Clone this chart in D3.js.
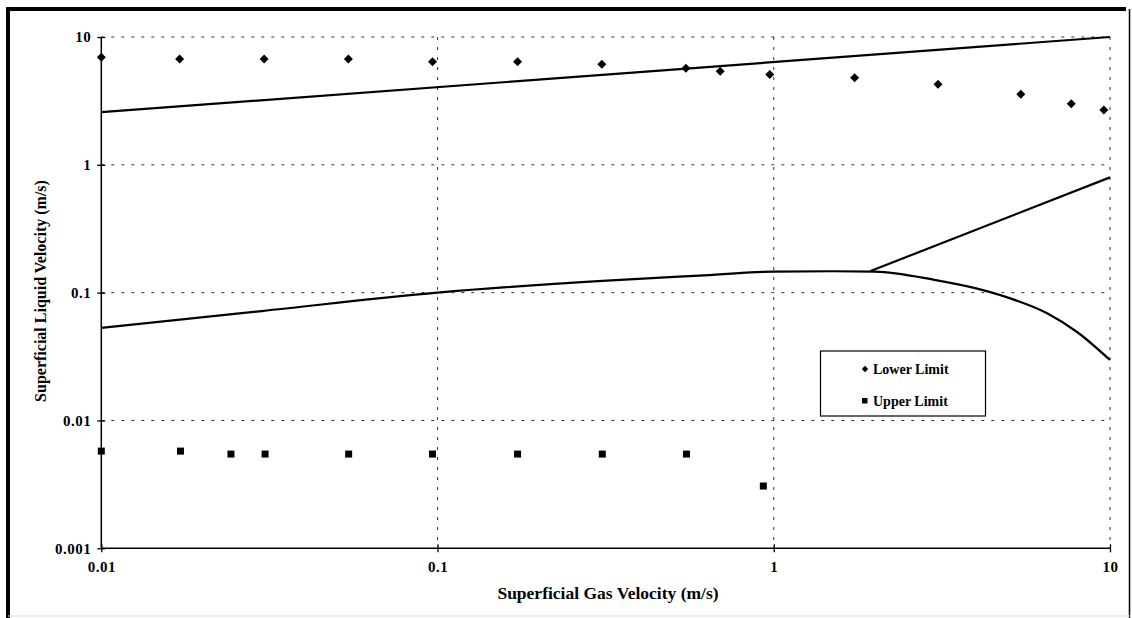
<!DOCTYPE html>
<html><head><meta charset="utf-8">
<script src="https://cdn.jsdelivr.net/npm/d3@7"></script>
<style>
body{margin:0;background:#fff}
svg{display:block}
text{font-family:"Liberation Serif","Times New Roman",serif;font-weight:bold;fill:#000}
</style>
</head><body><svg id="c" width="1132" height="618"></svg>
<script>
// ---- data ----
const lowerX = [0.01, 0.0171, 0.0305, 0.0543, 0.0966, 0.173, 0.308, 0.548, 0.693, 0.973, 1.74, 3.08, 5.43, 7.67, 9.59];
const lowerY = [6.95, 6.73, 6.73, 6.73, 6.41, 6.41, 6.11, 5.69, 5.39, 5.10, 4.80, 4.27, 3.56, 3.01, 2.69];
const upperX = [0.01, 0.0172, 0.0243, 0.0307, 0.0544, 0.0966, 0.173, 0.309, 0.55, 0.931];
const upperY = [0.00576, 0.00576, 0.00546, 0.00546, 0.00546, 0.00546, 0.00546, 0.00546, 0.00546, 0.00307];
const topLineX = [0.01, 10];
const topLineY = [2.58, 10];
const curveX = [0.01, 0.03, 0.1, 0.3, 0.6, 1, 1.5, 2, 3, 4, 5, 6.5, 8, 10];
const curveY = [0.053, 0.0718, 0.1, 0.123, 0.136, 0.146, 0.147, 0.146, 0.126, 0.108, 0.091, 0.069, 0.049, 0.0297];
const branchX = [1.94, 10];
const branchY = [0.1476, 0.798];
const xTicks = [0.01, 0.1, 1, 10];
const yTicks = [0.001, 0.01, 0.1, 1, 10];
const xTickLabels = ["0.01", "0.1", "1", "10"];
const yTickLabels = ["0.001", "0.01", "0.1", "1", "10"];
const seriesNames = ["Lower Limit", "Upper Limit"];
const xTitle = "Superficial Gas Velocity (m/s)";
const yTitle = "Superficial Liquid Velocity (m/s)";

// ---- layout ----
const svg = d3.select("#c");
const x = d3.scaleLog().domain([0.01, 10]).range([101.3, 1110]);
const y = d3.scaleLog().domain([0.001, 10]).range([548.3, 37]);

// outer frame
svg.append("line").attr("x1", 8).attr("x2", 8).attr("y1", 7).attr("y2", 618).attr("stroke", "#000").attr("stroke-width", 4);
svg.append("line").attr("x1", 6).attr("x2", 1126).attr("y1", 9).attr("y2", 9).attr("stroke", "#000").attr("stroke-width", 4);
svg.append("line").attr("x1", 1129.5).attr("x2", 1129.5).attr("y1", 9).attr("y2", 618).attr("stroke", "#000").attr("stroke-width", 1.5);
svg.append("line").attr("x1", 8).attr("x2", 1130).attr("y1", 616).attr("y2", 616).attr("stroke", "#ddd").attr("stroke-width", 1);

// grid
const grid = svg.append("g").attr("stroke", "#333").attr("stroke-width", 1).attr("stroke-dasharray", "3,7");
grid.selectAll(".hg").data(yTicks.slice(1)).join("line")
  .attr("x1", x(0.01)).attr("x2", x(10)).attr("y1", d => y(d)).attr("y2", d => y(d));
grid.selectAll(".vg").data(xTicks.slice(1)).join("line")
  .attr("x1", d => x(d)).attr("x2", d => x(d)).attr("y1", y(10)).attr("y2", y(0.001));

// axes
const xAxis = d3.axisBottom(x).tickValues(xTicks).tickFormat((d, i) => xTickLabels[i]).tickSize(4).tickPadding(0);
const gx = svg.append("g").attr("transform", `translate(0,${y(0.001)})`).call(xAxis);
gx.select(".domain").attr("d", `M${x(0.01)},0H${x(10)}`).attr("stroke-width", 1.5);
gx.selectAll(".tick line").attr("y1", -4).attr("y2", 4).attr("stroke-width", 1.3);
gx.selectAll(".tick text").attr("y", 19).attr("dy", "0.32em").style("font-size", "15px").style("letter-spacing", "0.5px").style("font-family", '"Liberation Serif",serif').style("font-weight", "bold");

const yAxis = d3.axisLeft(y).tickValues(yTicks).tickFormat((d, i) => yTickLabels[i]).tickSize(4).tickPadding(0);
const gy = svg.append("g").attr("transform", `translate(${x(0.01)},0)`).call(yAxis);
gy.select(".domain").attr("d", `M0,${y(10)}V${y(0.001)}`).attr("stroke-width", 1.5);
gy.selectAll(".tick line").attr("x1", -4).attr("x2", 4).attr("stroke-width", 1.3);
gy.selectAll(".tick text").attr("x", -10).style("font-size", "15px").style("letter-spacing", "0.5px").style("font-family", '"Liberation Serif",serif').style("font-weight", "bold");

// lines
const line = d3.line().x(d => x(d[0])).y(d => y(d[1]));
const smooth = d3.line().x(d => x(d[0])).y(d => y(d[1])).curve(d3.curveMonotoneX);
svg.append("path").datum(topLineX.map((v, i) => [v, topLineY[i]])).attr("d", line)
  .attr("fill", "none").attr("stroke", "#000").attr("stroke-width", 2.2);
svg.append("path").datum(curveX.map((v, i) => [v, curveY[i]])).attr("d", smooth)
  .attr("fill", "none").attr("stroke", "#000").attr("stroke-width", 2.2);
svg.append("path").datum(branchX.map((v, i) => [v, branchY[i]])).attr("d", line)
  .attr("fill", "none").attr("stroke", "#000").attr("stroke-width", 2.2);

// markers
const dia = r => `M0,${-r}L${r},0L0,${r}L${-r},0Z`;
svg.append("g").selectAll("path").data(lowerX.map((v, i) => [v, lowerY[i]])).join("path")
  .attr("d", dia(4.5)).attr("transform", d => `translate(${x(d[0])},${y(d[1])})`).attr("fill", "#000");
svg.append("g").selectAll("rect").data(upperX.map((v, i) => [v, upperY[i]])).join("rect")
  .attr("x", d => x(d[0]) - 3.5).attr("y", d => y(d[1]) - 3.5).attr("width", 7).attr("height", 7).attr("fill", "#000");

// legend
const lg = svg.append("g");
lg.append("rect").attr("x", 820.5).attr("y", 351).attr("width", 165).attr("height", 65)
  .attr("fill", "#fff").attr("stroke", "#000").attr("stroke-width", 1.2);
lg.append("path").attr("d", dia(3.2)).attr("transform", "translate(865,369)");
lg.append("rect").attr("x", 862).attr("y", 398).attr("width", 5.5).attr("height", 5.5);
lg.append("text").attr("x", 873).attr("y", 369).attr("dy", "0.35em").style("font-size", "14px").text(seriesNames[0]);
lg.append("text").attr("x", 873).attr("y", 401).attr("dy", "0.35em").style("font-size", "14px").text(seriesNames[1]);

// titles
svg.append("text").attr("x", 608).attr("y", 593).attr("dy", "0.35em").attr("text-anchor", "middle").style("font-size", "17.5px").text(xTitle);
svg.append("text").attr("transform", "translate(40,291) rotate(-90)").attr("dy", "0.35em").attr("text-anchor", "middle").style("font-size", "16px").text(yTitle);
</script>
</body></html>
